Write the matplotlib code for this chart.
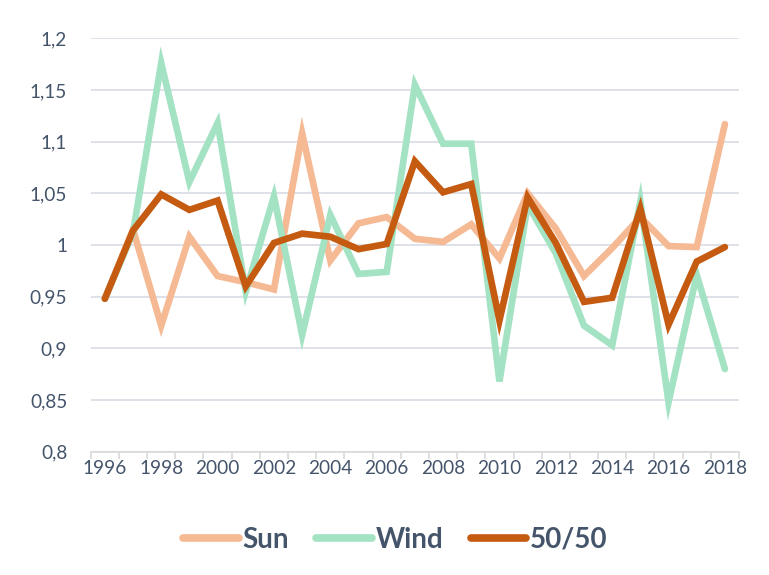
import matplotlib
matplotlib.use("Agg")
import matplotlib.pyplot as plt
from matplotlib.ticker import FixedLocator, FuncFormatter

years = list(range(1996, 2019))
sun = [0.948, 1.015, 0.922, 1.008, 0.970, 0.964, 0.957, 1.108, 0.985, 1.021, 1.027, 1.006,
       1.003, 1.020, 0.987, 1.050, 1.016, 0.970, 0.997, 1.027, 0.999, 0.998, 1.117]
wind = [0.948, 1.012, 1.176, 1.061, 1.118, 0.955, 1.047, 0.913, 1.029, 0.972, 0.974, 1.155,
        1.098, 1.098, 0.868, 1.039, 0.992, 0.922, 0.903, 1.042, 0.848, 0.971, 0.880]
mix = [0.948, 1.014, 1.049, 1.034, 1.043, 0.960, 1.002, 1.011, 1.008, 0.996, 1.001, 1.081,
       1.051, 1.059, 0.927, 1.046, 1.002, 0.945, 0.949, 1.035, 0.923, 0.984, 0.998]
series_names = ["Sun", "Wind", "50/50"]
colors = ["#f5b993", "#a3e2c3", "#c55a11"]
yticks = [0.8, 0.85, 0.9, 0.95, 1.0, 1.05, 1.1, 1.15, 1.2]
xtick_years = list(range(1996, 2019, 2))

text_color = "#44546a"
plt.rcParams["font.family"] = ["Lato", "DejaVu Sans"]

fig = plt.figure(figsize=(7.69, 5.75), dpi=100)
ax = fig.add_axes([0.118, 0.2144, 0.843, 0.719])

for vals, name, c in zip([sun, wind, mix], series_names, colors):
    ax.plot(years, vals, color=c, lw=4.8, label=name, solid_joinstyle="miter",
            solid_capstyle="round")

ax.set_xlim(1995.5, 2018.5)
ax.set_ylim(0.8, 1.2)
ax.yaxis.set_major_locator(FixedLocator(yticks))
ax.yaxis.set_major_formatter(FuncFormatter(lambda v, p: ("%g" % round(v, 2)).replace(".", ",")))
ax.grid(axis="y", color="#d9dbe4", lw=1.2)
ax.set_axisbelow(True)

ax.set_xticks(xtick_years)
ax.set_xticks([y - 0.5 for y in years] + [years[-1] + 0.5], minor=True)
ax.tick_params(axis="x", which="major", length=0, pad=6, labelsize=13.7, labelcolor=text_color)
ax.tick_params(axis="x", which="minor", length=5, color="#d9d9d9", width=1.2, direction="out")
ax.tick_params(axis="y", length=0, pad=17, labelsize=13.7, labelcolor=text_color)

for s in ["top", "right", "left"]:
    ax.spines[s].set_visible(False)
ax.spines["bottom"].set_color("#d9d9d9")
ax.spines["bottom"].set_linewidth(1.2)

leg = fig.legend(loc="center", bbox_to_anchor=(0.514, 0.061), ncol=3, frameon=False,
                 handlelength=2.0, handletextpad=0.12, columnspacing=1.0,
                 prop={"weight": "bold", "size": 20})
for t in leg.get_texts():
    t.set_color(text_color)
for l in leg.get_lines():
    l.set_linewidth(5.5)

fig.savefig("out.png", dpi=100)
